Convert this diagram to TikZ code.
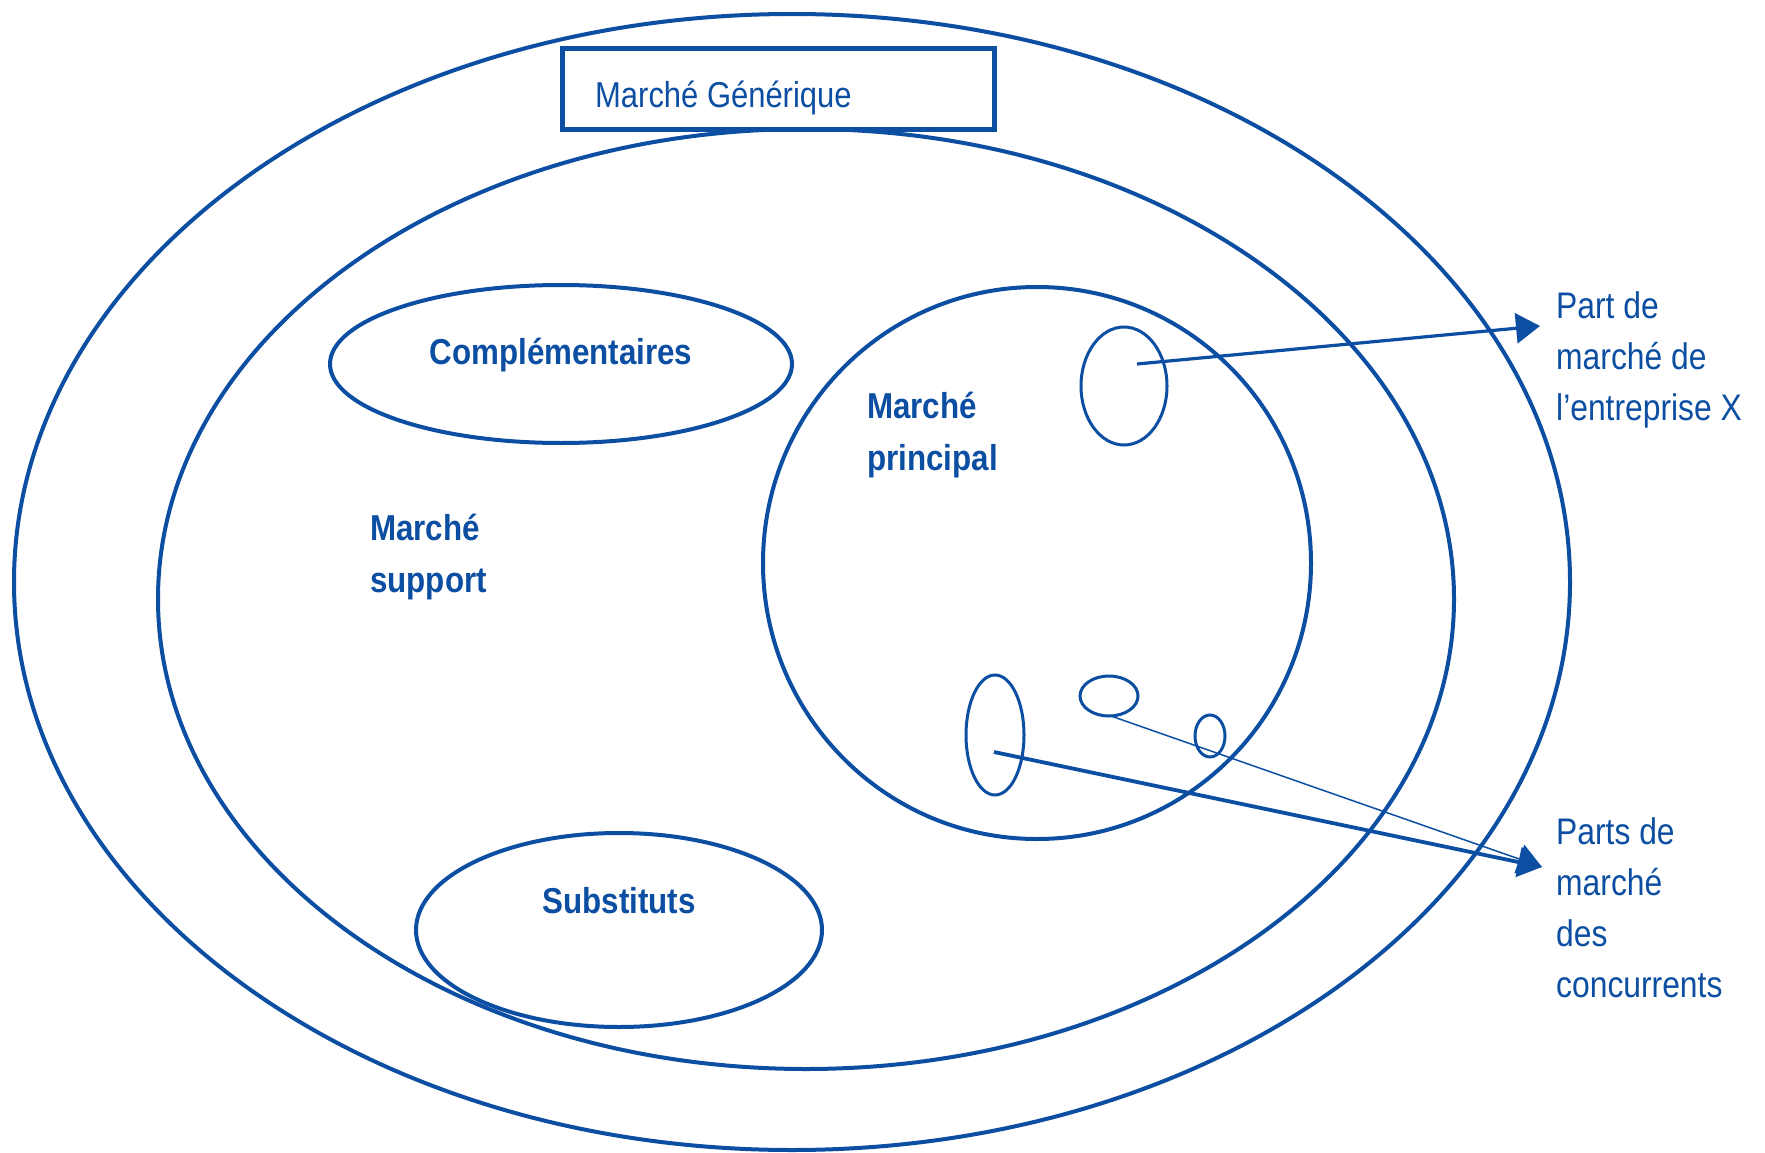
\documentclass[tikz,border=0pt]{standalone}
\usepackage{fontspec}
\setmainfont{Liberation Sans}
\newfontfamily\labfont[FakeStretch=0.86]{Liberation Sans}
\newfontfamily\boldfont[FakeStretch=0.87]{Liberation Sans}
\usetikzlibrary{shapes.geometric,arrows.meta}
\definecolor{mblue}{RGB}{12,78,162}
\begin{document}
\begin{tikzpicture}[x=1pt,y=-1pt,
  ring/.style={ellipse,draw=mblue,line width=4pt,inner sep=0pt},
  small/.style={ellipse,draw=mblue,line width=3pt,inner sep=0pt},
  reglab/.style={text=mblue,inner sep=0pt,align=left,font=\labfont\fontsize{37}{51}\selectfont},
  boldlab/.style={text=mblue,inner sep=0pt,align=left,font=\boldfont\bfseries\fontsize{36}{52}\selectfont},
  arr/.style={draw=mblue,-{Triangle[length=24pt,width=30pt]}}
]
\useasboundingbox (0,0) rectangle (1765,1153);
\fill[white] (0,0) rectangle (1765,1153);
% rings
\node[ring,minimum width=1556pt,minimum height=1136pt] (gen) at (792,582) {};
\node[ring,minimum width=1296pt,minimum height=940pt] (sup) at (806,599) {};
\node[ring,minimum width=548pt,minimum height=552pt] (prin) at (1037,563) {};
\node[ring,minimum width=462pt,minimum height=158pt] (comp) at (561,364) {};
\node[ring,minimum width=406pt,minimum height=194pt] (subs) at (619,930) {};
% small shares
\node[small,minimum width=86pt,minimum height=118pt] (px) at (1124,386) {};
\node[small,minimum width=58pt,minimum height=120pt] (pa) at (995,735) {};
\node[small,minimum width=58pt,minimum height=40pt] (pb) at (1109,696) {};
\node[small,minimum width=30pt,minimum height=42pt] (pc) at (1210,736) {};
% title box
\node[draw=mblue,fill=white,line width=5.5pt,minimum width=432pt,minimum height=81pt,inner sep=0pt] (box) at (778.5,89) {};
\node[reglab,anchor=base west,font=\labfont\fontsize{36}{44}\selectfont] (gtitle) at (595,108) {Marché Générique};
% labels
\node[boldlab,anchor=base] (lcomp) at (561,364) {Complémentaires};
\node[boldlab,anchor=base] (lsubs) at (619,913) {Substituts};
\node[boldlab,anchor=north west] (lsup) at (370,514) {Marché\\support};
\node[boldlab,anchor=north west] (lprin) at (867,392) {Marché\\principal};
\node[reglab,anchor=north west] (lx) at (1556,291) {Part de\\marché de\\l’entreprise X};
\node[reglab,anchor=north west] (lconc) at (1556,817) {Parts de\\marché\\des\\concurrents};
% connectors
\coordinate (s1) at (1137,364);
\coordinate (t1) at (1540,326);
\coordinate (s2) at (994,752);
\coordinate (s3) at (1111,716);
\coordinate (t2) at (1542,867);
\draw[arr,line width=3.2pt] (s1) -- (t1);
\draw[arr,line width=1.5pt] (s3) -- (t2);
\draw[arr,line width=3.8pt] (s2) -- (t2);
\end{tikzpicture}
\end{document}
